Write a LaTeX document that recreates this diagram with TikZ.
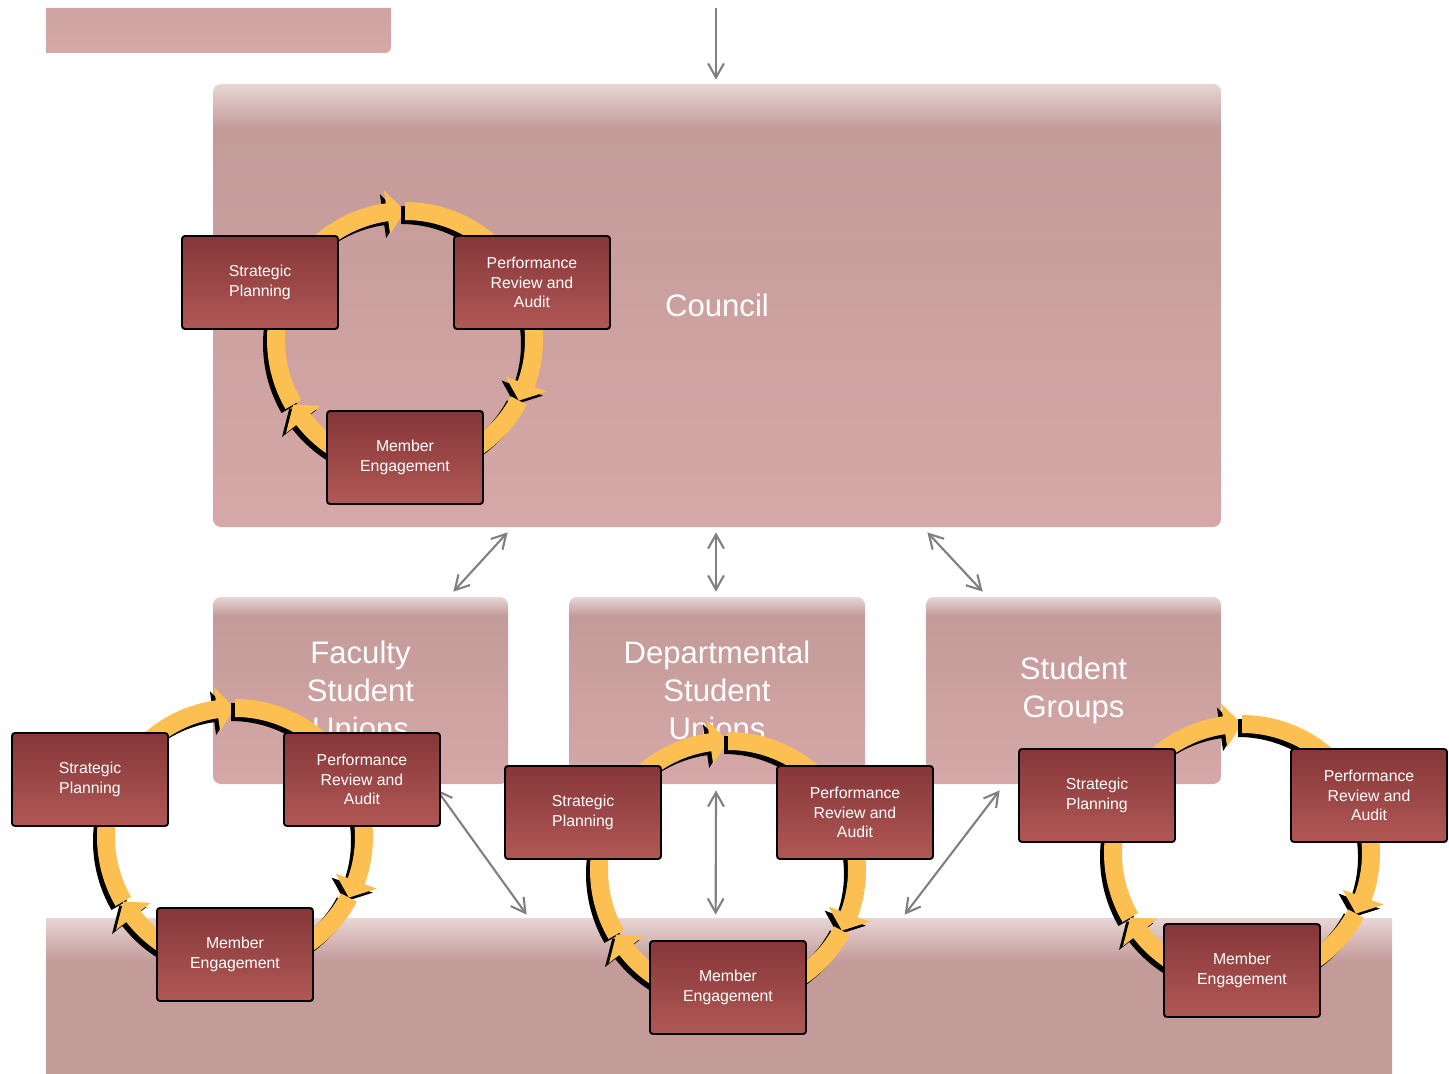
\documentclass[tikz,border=0pt]{standalone}
\usepackage{fontspec}
\setmainfont{Liberation Sans}
\usetikzlibrary{arrows.meta}

\definecolor{pinklight}{RGB}{232,213,213}
\definecolor{pinkmid}{RGB}{195,155,153}
\definecolor{pinklow}{RGB}{214,168,168}
\definecolor{cardtop}{RGB}{134,54,56}
\definecolor{cardlow}{RGB}{176,88,86}
\definecolor{ringgold}{RGB}{252,192,82}
\definecolor{linkgrey}{RGB}{128,128,128}

\pgfdeclareverticalshading{panelshade}{100bp}{color(0bp)=(pinklow); color(25bp)=(pinklow); color(70bp)=(pinkmid); color(75bp)=(pinklight); color(100bp)=(pinklight)}
\pgfdeclareverticalshading{bandshade}{100bp}{color(0bp)=(pinkmid); color(25bp)=(pinkmid); color(61bp)=(pinkmid); color(75bp)=(pinklight); color(100bp)=(pinklight)}

\begin{document}
\begin{tikzpicture}[x=0.02cm, y=0.02cm,
  >={Straight Barb[length=8pt,width=9pt]},
  panel/.style={shade, shading=panelshade, rounded corners=4.5pt, inner sep=0pt,
    text=white, align=center, font=\fontsize{17.7}{21.5}\selectfont},
  card/.style={draw=black, line width=1.1pt, rounded corners=1.7pt,
    top color=cardtop, bottom color=cardlow, minimum width=156*\px,
    minimum height=93*\px, inner sep=0pt, text=white, align=center,
    font=\fontsize{9}{11}\selectfont},
  link/.style={draw=linkgrey, line width=1.2pt, <->}]

\def\px{0.02cm}
\path [use as bounding box] (0,0) rectangle (1449,-1074);

% ring piece: from angle #1 clockwise to tip at #2
\def\ringarrow#1#2#3{\fill[#3] ({#1}:138) arc[start angle=#1, end angle=#2+8, radius=138]
  -- ({#2+8}:151) -- ({#2}:129) -- ({#2+8}:107) -- ({#2+8}:120)
  arc[start angle=#2+8, end angle=#1, radius=120] -- cycle;}
% whole loop: #1 prefix, (#2,#3) ring centre
\def\pdca#1#2#3{\begin{scope}[shift={(#2,-#3)}]
  \foreach \a/\b in {210/90, 90/-28, -28/-150} {
    \ringarrow{\a}{\b}{black, shift={(-4,-4)}}
    \ringarrow{\a}{\b}{ringgold}
  }
  \node[card] (#1plan) at (-145,57.5) {Strategic\\Planning};
  \node[card] (#1review) at (127,57.5) {Performance\\Review and\\Audit};
  \node[card] (#1member) at (0,-117.5) {Member\\Engagement};
\end{scope}}

% HEADER
\shade [top color={rgb,255:red,207;green,163;blue,163}, bottom color=pinklow]
  (46,-8) -- (391,-8) -- (391,-47) arc[start angle=0, end angle=-90, radius=6] -- (46,-53) -- cycle;

% PANELS
\node[panel, minimum width=1008*\px, minimum height=443*\px] (council) at (717,-305.5) {Council};
\node[panel, minimum width=295*\px, minimum height=187*\px] (faculty) at (360.5,-690.5) {Faculty\\Student\\Unions};
\node[panel, minimum width=296*\px, minimum height=187*\px] (depts) at (717,-690.5) {Departmental\\Student\\Unions};
\node[panel, minimum width=295*\px, minimum height=187*\px] (groups) at (1073.5,-690.5) {Student\\Groups};
\node[shade, shading=bandshade, minimum width=1346*\px, minimum height=156*\px, inner sep=0pt] (base) at (719,-996) {};

% LINKS
\coordinate (feed) at (716,-8);
\draw [draw=linkgrey, line width=1.2pt, ->] (feed) -- ([shift={(-1,4)}]council.north);
\draw [link] ([shift={(295,-5)}]council.south west) -- ([shift={(-55,5)}]faculty.north east);
\draw [link] ([shift={(-1,-5)}]council.south) -- ([shift={(-1,5)}]depts.north);
\draw [link] ([shift={(-294,-5)}]council.south east) -- ([shift={(57,5)}]groups.north west);
\draw [link] ([shift={(76,-5)}]faculty.south) -- ([shift={(481,3)}]base.north west);
\draw [link] ([shift={(-1,-6)}]depts.south) -- ([shift={(670,3)}]base.north west);
\draw [link] ([shift={(74,-6)}]groups.south west) -- ([shift={(859,3)}]base.north west);

% CYCLES
\pdca{cu}{405}{340}
\pdca{fa}{235}{837}
\pdca{de}{728}{870}
\pdca{gr}{1242}{853}

\end{tikzpicture}
\end{document}
